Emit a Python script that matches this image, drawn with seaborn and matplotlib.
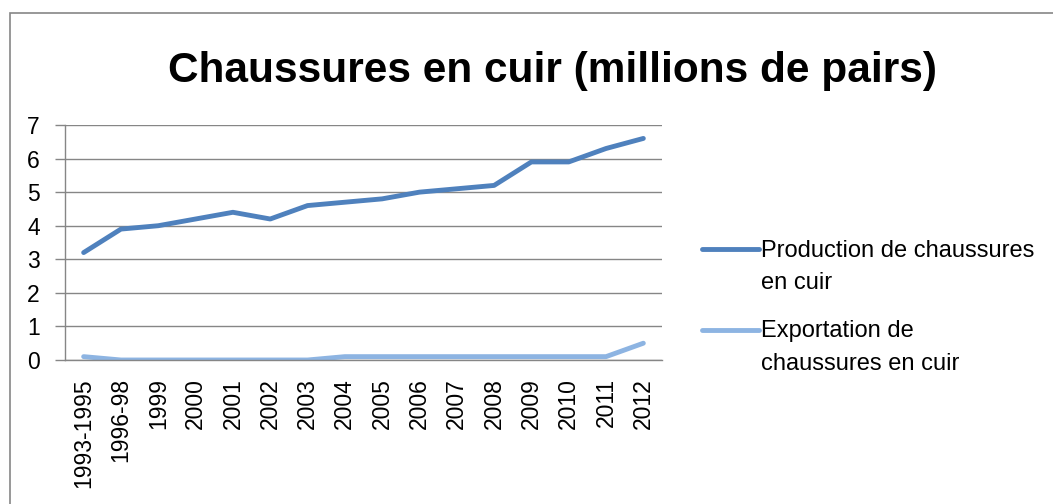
import matplotlib
matplotlib.use("Agg")
import matplotlib.pyplot as plt
import seaborn as sns
import pandas as pd
from matplotlib.patches import Rectangle

categories = ["1993-1995", "1996-98", "1999", "2000", "2001", "2002", "2003", "2004",
              "2005", "2006", "2007", "2008", "2009", "2010", "2011", "2012"]
production = [3.2, 3.9, 4.0, 4.2, 4.4, 4.2, 4.6, 4.7, 4.8, 5.0, 5.1, 5.2, 5.9, 5.9, 6.3, 6.6]
exportation = [0.1, 0.0, 0.0, 0.0, 0.0, 0.0, 0.0, 0.1, 0.1, 0.1, 0.1, 0.1, 0.1, 0.1, 0.1, 0.5]
series_names = ["Production de chaussures\nen cuir", "Exportation de\nchaussures en cuir"]
title = "Chaussures en cuir (millions de pairs)"
y_ticks = [0, 1, 2, 3, 4, 5, 6, 7]

sns.set_theme(style="white")
plt.rcParams['font.family'] = ['Liberation Sans', 'DejaVu Sans']
plt.rcParams['text.color'] = 'black'
plt.rcParams['xtick.color'] = 'black'
plt.rcParams['ytick.color'] = 'black'

df = pd.DataFrame({
    "cat": categories * 2,
    "value": production + exportation,
    "series": [series_names[0]] * len(categories) + [series_names[1]] * len(categories),
})

fig = plt.figure(figsize=(10.53, 5.04), dpi=100)
ax = fig.add_axes([65 / 1053, 1 - 360 / 504, (662 - 65) / 1053, (360 - 125) / 504])

sns.lineplot(data=df, x="cat", y="value", hue="series", hue_order=series_names,
             palette=["#4F81BD", "#8DB4E2"], linewidth=3.5, ax=ax, sort=False,
             solid_capstyle="round")

ax.set_xlim(-0.5, len(categories) - 0.5)
ax.set_ylim(0, 7)
ax.set_yticks(y_ticks)
ax.set_yticklabels([str(v) for v in y_ticks], fontsize=16.5, color="black")
ax.set_xticks(range(len(categories)))
ax.set_xticklabels(categories, rotation=90, fontsize=16.5, color="black")
ax.set_xticks([i - 0.5 for i in range(len(categories) + 1)], minor=True)
ax.tick_params(axis="x", which="major", length=0, pad=13, labelcolor="black")
ax.tick_params(axis="x", which="minor", length=6, width=1, color="#868686", direction="out")
ax.tick_params(axis="y", which="major", length=7, width=1, color="#868686", pad=11,
               direction="out", left=True, labelcolor="black")
ax.grid(axis="y", color="#868686", linewidth=1)
ax.set_axisbelow(True)
for s in ["top", "right"]:
    ax.spines[s].set_visible(False)
for s in ["left", "bottom"]:
    ax.spines[s].set_color("#868686")
    ax.spines[s].set_linewidth(1)
ax.set_xlabel("")
ax.set_ylabel("")

leg = ax.legend(loc="upper left", bbox_to_anchor=(1.0516, 0.552), frameon=False, fontsize=17,
                handlelength=2.4, handletextpad=0.1, labelspacing=1.12, borderaxespad=0)
for line in leg.get_lines():
    line.set_linewidth(3.5)
    line.set_ydata([v + 13 for v in line.get_ydata()])
for t in leg.get_texts():
    t.set_color("black")
    t.set_linespacing(1.6)

fig.text(552 / 1053, 1 - 82 / 504, title, ha="center", va="baseline",
         fontsize=30.5, fontweight="bold", color="black")

fig.patches.append(Rectangle((10 / 1053, -0.05), 1.1, 1 - 13 / 504 + 0.05,
                             transform=fig.transFigure, fill=False,
                             edgecolor="#868686", linewidth=1.2))

fig.savefig("out.png", dpi=100)
